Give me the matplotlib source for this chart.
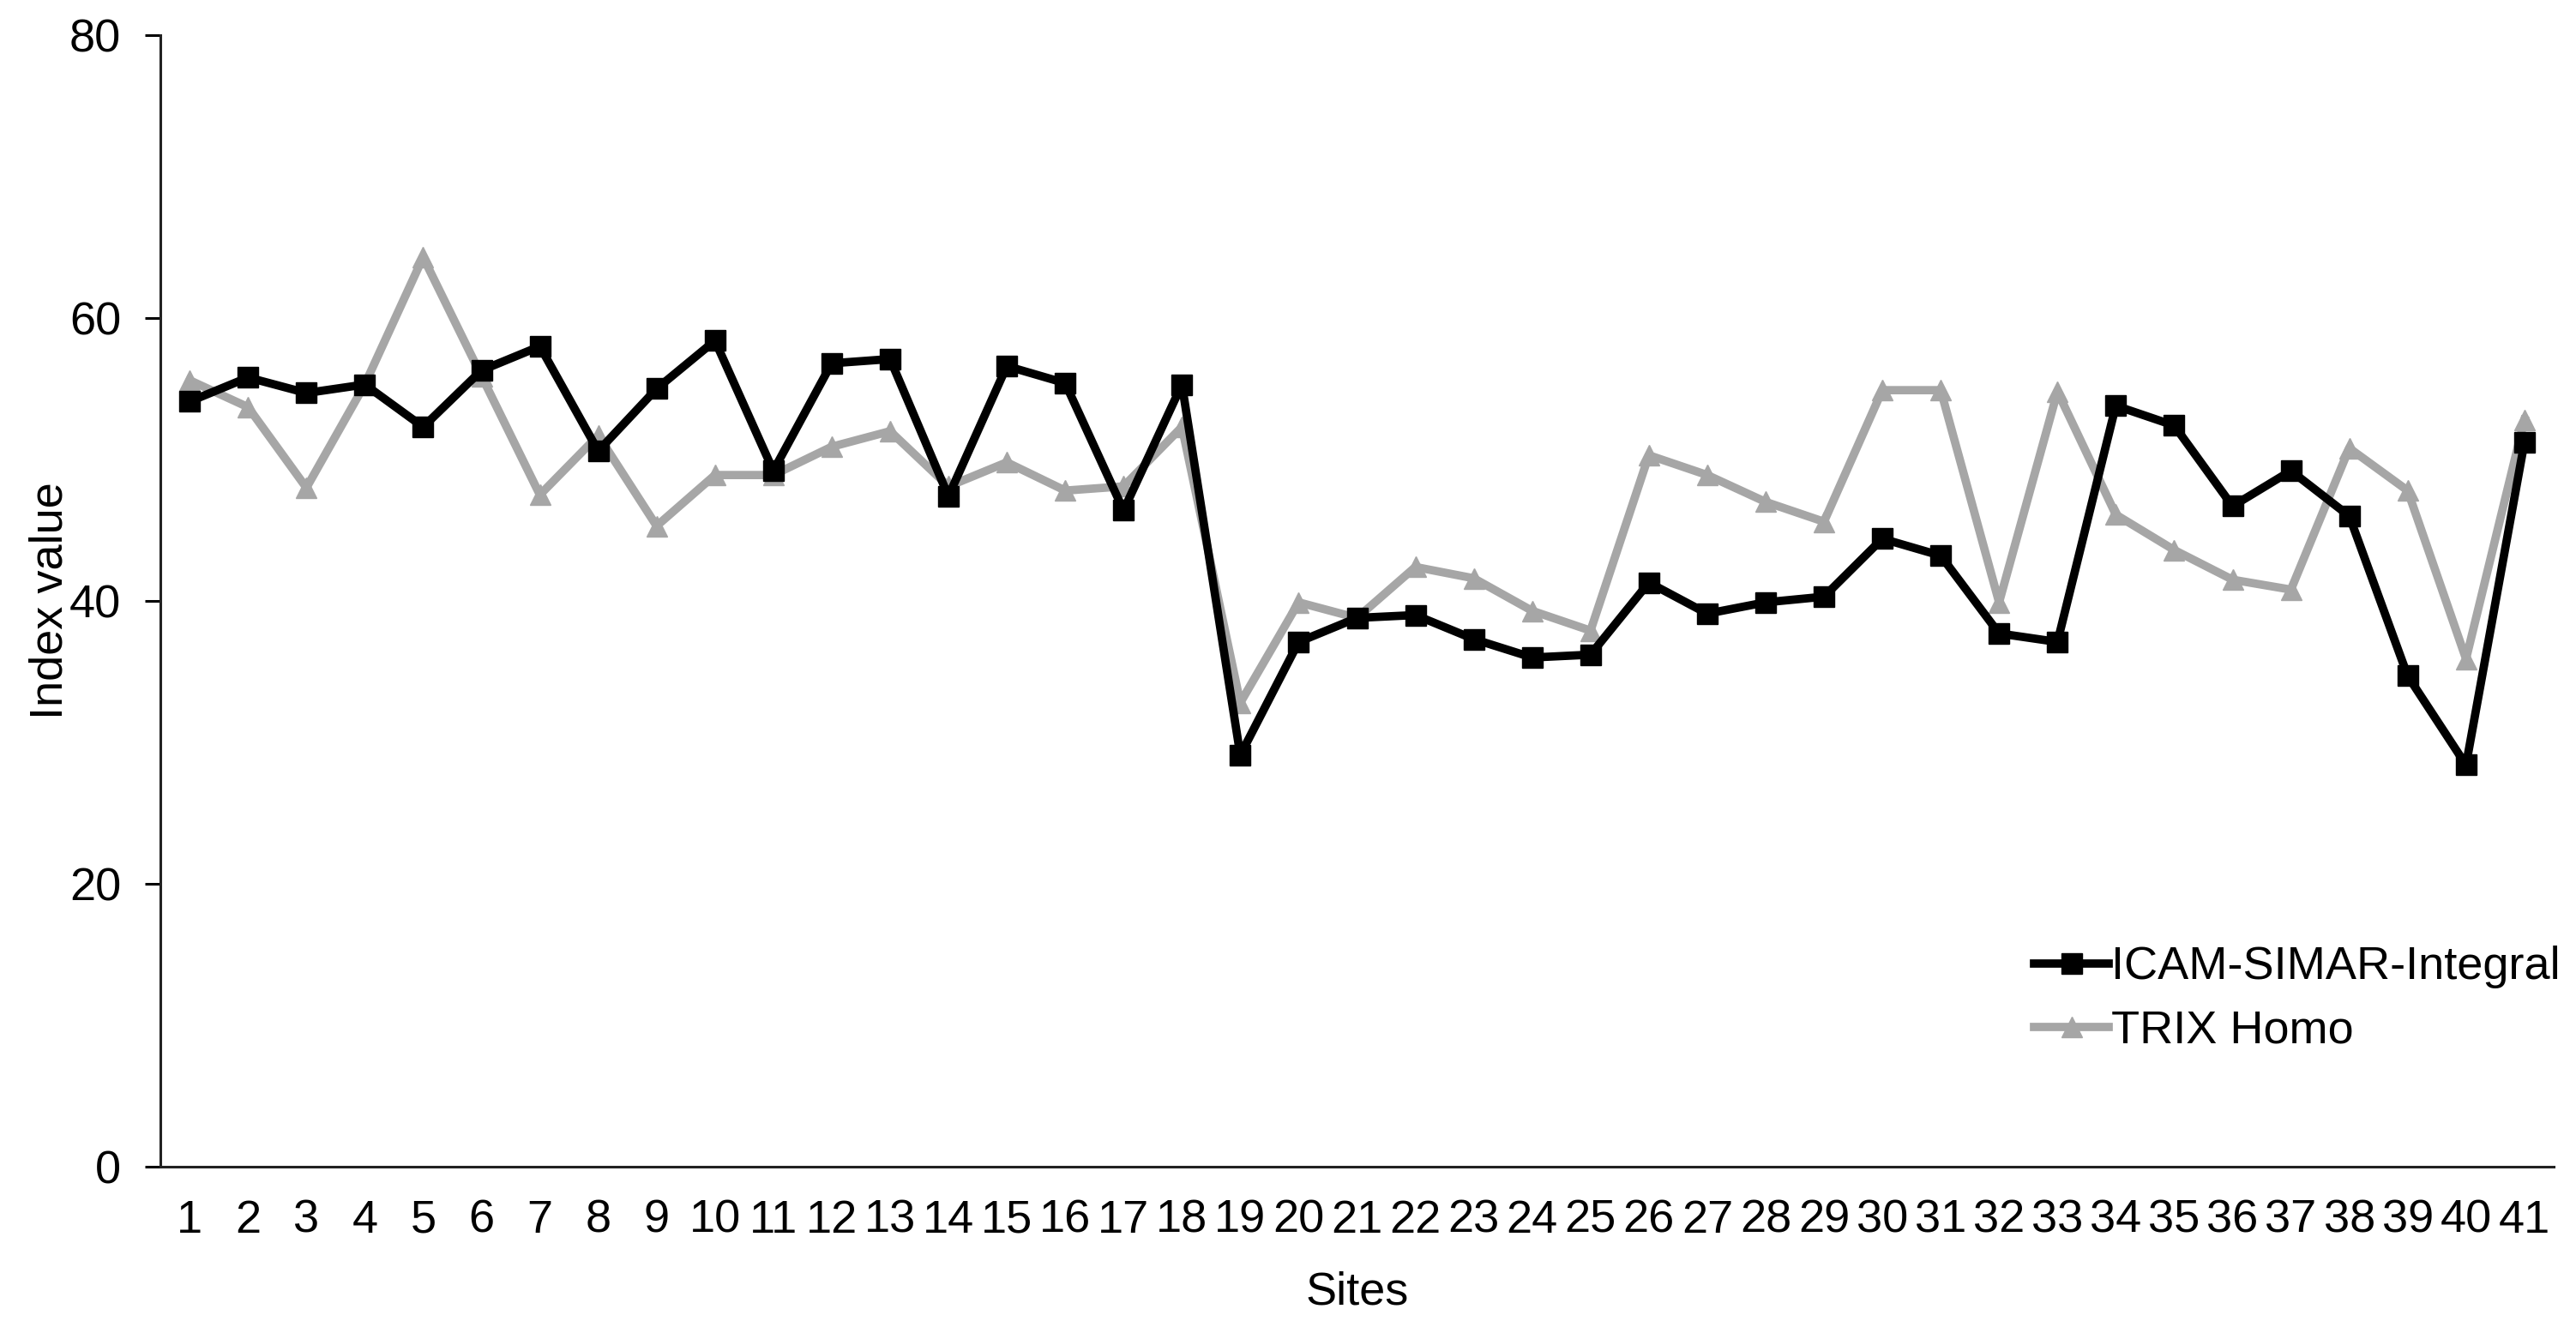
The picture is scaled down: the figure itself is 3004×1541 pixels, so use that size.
import matplotlib
matplotlib.use("Agg")
import matplotlib.pyplot as plt

plt.rcParams['font.family'] = ['Liberation Sans', 'DejaVu Sans']

sites = list(range(1, 42))

icam = [54.1, 55.8, 54.7, 55.3, 52.3, 56.3, 58.0, 50.6, 55.0, 58.4,
        49.2, 56.8, 57.1, 47.4, 56.6, 55.4, 46.4, 55.3, 29.1, 37.1,
        38.8, 39.0, 37.3, 36.0, 36.2, 41.3, 39.1, 39.9, 40.3, 44.4,
        43.2, 37.7, 37.1, 53.8, 52.4, 46.7, 49.2, 46.0, 34.7, 28.4,
        51.2]

trix = [55.6, 53.7, 48.0, 55.3, 64.3, 55.9, 47.5, 51.7, 45.3, 48.9,
        48.9, 50.9, 52.0, 48.1, 49.8, 47.8, 48.1, 52.3, 32.8, 39.9,
        38.8, 42.4, 41.6, 39.3, 37.9, 50.3, 48.9, 47.0, 45.6, 54.9,
        54.9, 39.9, 54.8, 46.1, 43.6, 41.5, 40.8, 50.8, 47.8, 35.9,
        52.8]

yticks = [0, 20, 40, 60, 80]

fig = plt.figure(figsize=(30.04, 15.41), dpi=100)
ax = fig.add_axes([0.0623, 0.1168, 0.929, 0.8566])

ax.plot(sites, icam, color='black', lw=7, marker='s', markersize=17,
        label='ICAM-SIMAR-Integral', zorder=3)
ax.plot(sites, trix, color='#a6a6a6', lw=7, marker='^', markersize=17,
        label='TRIX Homo', zorder=2)

ax.set_xlim(0.5, 41.5)
ax.set_ylim(0, 80)
ax.set_xticks(sites)
ax.set_xticklabels([str(s) for s in sites])
ax.set_yticks(yticks)

for s in ['top', 'right']:
    ax.spines[s].set_visible(False)
for s in ['left', 'bottom']:
    ax.spines[s].set_linewidth(2.2)
    ax.spines[s].set_color('#222222')

ax.tick_params(axis='x', length=0, pad=27, labelsize=39)
ax.tick_params(axis='y', length=13, width=2.2, pad=20, labelsize=39)

ax.set_xlabel('Sites', fontsize=39)
ax.xaxis.set_label_coords(0.5, -0.092)
ax.set_ylabel('Index value', fontsize=39)
ax.yaxis.set_label_coords(-0.037, 0.5)

ax.legend(loc='center left', bbox_to_anchor=(0.783, 0.148), frameon=False,
          fontsize=39, handlelength=1.6, handletextpad=0.05,
          labelspacing=0.45, borderpad=0, borderaxespad=0)

fig.savefig('out.png', dpi=100)
